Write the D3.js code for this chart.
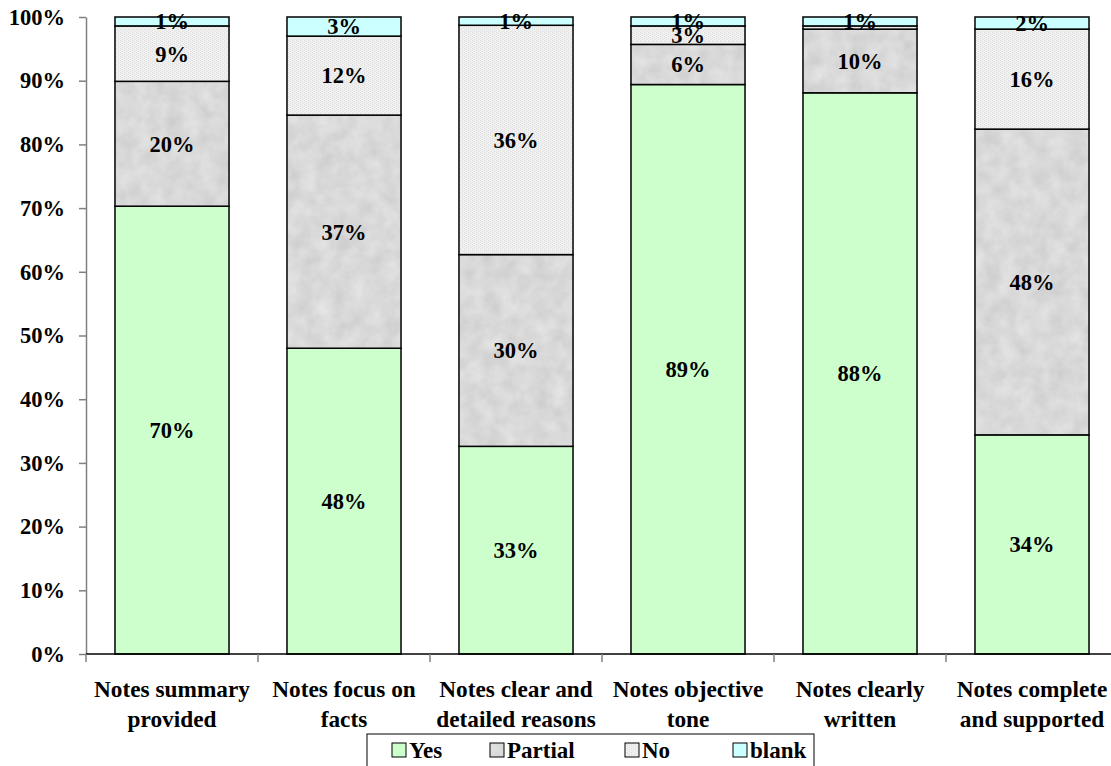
<!DOCTYPE html>
<html>
<head>
<meta charset="utf-8">
<script src="https://cdn.jsdelivr.net/npm/d3@7"></script>
<style>
  html, body { margin: 0; padding: 0; background: #fff; }
  svg { display: block; font-family: "Liberation Serif", "Times New Roman", serif; font-weight: bold; }
</style>
</head>
<body>
<svg id="chart" width="1111" height="766"></svg>
<script>
// Category labels, one array of lines per bar
const categories = [
  "Notes summary provided",
  "Notes focus on facts",
  "Notes clear and detailed reasons",
  "Notes objective tone",
  "Notes clearly written",
  "Notes complete and supported"
];
const categoryLines = [
  ["Notes summary", "provided"],
  ["Notes focus on", "facts"],
  ["Notes clear and", "detailed reasons"],
  ["Notes objective", "tone"],
  ["Notes clearly", "written"],
  ["Notes complete", "and supported"]
];

// Share of responses (percent) for each answer
const yesValues     = [70.3, 48.0, 32.6, 89.4, 88.1, 34.4];
const partialValues = [19.6, 36.6, 30.1,  6.3, 10.0, 48.0];
const noValues      = [ 8.7, 12.4, 36.0,  2.9,  0.5, 15.7];
const blankValues   = [ 1.4,  3.0,  1.3,  1.4,  1.4,  1.9];

const seriesNames = ["Yes", "Partial", "No", "blank"];
const yTicks = [0, 0.1, 0.2, 0.3, 0.4, 0.5, 0.6, 0.7, 0.8, 0.9, 1.0];

const rows = categories.map((c, i) => ({
  category: c,
  Yes: yesValues[i] / 100,
  Partial: partialValues[i] / 100,
  No: noValues[i] / 100,
  blank: blankValues[i] / 100
}));

const svg = d3.select("#chart");
const defs = svg.append("defs");

// Soft mottled grey texture for "Partial"
const mottle = defs.append("filter").attr("id", "mottle")
  .attr("x", 0).attr("y", 0).attr("width", 1).attr("height", 1)
  .attr("color-interpolation-filters", "sRGB");
mottle.append("feTurbulence")
  .attr("type", "fractalNoise").attr("baseFrequency", 0.06)
  .attr("numOctaves", 3).attr("seed", 4).attr("result", "n");
mottle.append("feColorMatrix").attr("in", "n").attr("type", "matrix")
  .attr("values", "0.12 0 0 0 0.79  0.12 0 0 0 0.79  0.12 0 0 0 0.79  0 0 0 0 1");
defs.append("pattern").attr("id", "partialFill")
  .attr("patternUnits", "userSpaceOnUse").attr("width", 1111).attr("height", 766)
  .append("rect").attr("width", 1111).attr("height", 766).attr("filter", "url(#mottle)");

// Fine light dither for "No"
const dither = defs.append("pattern").attr("id", "noFill")
  .attr("patternUnits", "userSpaceOnUse").attr("width", 4).attr("height", 4);
dither.append("rect").attr("width", 4).attr("height", 4).attr("fill", "#f2f2f2");
[[0, 0], [2, 1], [0, 2], [2, 3], [1, 1], [3, 3]].forEach(([px, py], i) =>
  dither.append("rect").attr("x", px).attr("y", py).attr("width", 1).attr("height", 1)
    .attr("fill", i < 4 ? "#e0e0e0" : "#e8e8e8"));

const fills = {
  Yes: "#ccffcc",
  Partial: "url(#partialFill)",
  No: "url(#noFill)",
  blank: "#ccffff"
};

const x = d3.scaleBand()
  .domain(categories)
  .range([86, 1118])
  .paddingInner(0.337)
  .paddingOuter(0.1685);

const y = d3.scaleLinear().domain([0, 1]).range([654, 17]);

const stack = d3.stack().keys(seriesNames);
const stacked = stack(rows);

// Bars
const layers = svg.append("g").selectAll("g")
  .data(stacked).join("g")
  .attr("fill", d => fills[d.key]);

layers.selectAll("rect")
  .data(d => d.map(p => ({ p, key: d.key })))
  .join("rect")
  .attr("x", d => x(d.p.data.category))
  .attr("y", d => y(d.p[1]))
  .attr("width", x.bandwidth())
  .attr("height", d => y(d.p[0]) - y(d.p[1]))
  .attr("stroke", "#000")
  .attr("stroke-width", 1.5);

// Value labels
const pct = d3.format(".0%");
const labelData = stacked.flatMap(layer =>
  layer.map(p => ({ key: layer.key, p, v: p[1] - p[0] })))
  .filter(d => d.v >= 0.01);

svg.append("g").selectAll("text")
  .data(labelData).join("text")
  .attr("x", d => x(d.p.data.category) + x.bandwidth() / 2)
  .attr("y", d => (y(d.p[0]) + y(d.p[1])) / 2)
  .attr("dy", "0.35em")
  .attr("text-anchor", "middle")
  .attr("font-size", 22.5)
  .attr("fill", "#000")
  .text(d => pct(d.v));

// Y axis
const yAxis = d3.axisLeft(y)
  .tickValues(yTicks)
  .tickFormat(d3.format(".0%"))
  .tickSize(7)
  .tickSizeOuter(0)
  .tickPadding(14);

const gy = svg.append("g").attr("transform", "translate(86,0)").call(yAxis);
gy.select(".domain").attr("stroke", "#808080").attr("stroke-width", 1.5);
gy.selectAll(".tick line").attr("stroke", "#808080").attr("stroke-width", 1.5);
gy.selectAll(".tick text")
  .attr("font-size", 22.5)
  .attr("font-family", "Liberation Serif, Times New Roman, serif")
  .attr("font-weight", "bold")
  .attr("fill", "#000");

// X axis baseline and category dividers
const x0 = x.range()[0];
const boundaries = d3.range(categories.length + 1).map(i => x0 + i * x.step());
svg.append("line")
  .attr("x1", x0).attr("x2", x.range()[1])
  .attr("y1", y(0)).attr("y2", y(0))
  .attr("stroke", "#000").attr("stroke-width", 1.5);
svg.append("g").selectAll("line")
  .data(boundaries).join("line")
  .attr("x1", d => d).attr("x2", d => d)
  .attr("y1", y(0)).attr("y2", y(0) + 8)
  .attr("stroke", "#808080").attr("stroke-width", 1.5);

// Category labels
const catText = svg.append("g").selectAll("text")
  .data(categories).join("text")
  .attr("x", d => x(d) + x.bandwidth() / 2)
  .attr("y", 697)
  .attr("text-anchor", "middle")
  .attr("font-size", 23.3)
  .attr("fill", "#000");
catText.selectAll("tspan")
  .data((d, i) => categoryLines[i])
  .join("tspan")
  .attr("x", function () { return this.parentNode.getAttribute("x"); })
  .attr("dy", (d, i) => i === 0 ? 0 : 30)
  .text(d => d);

// Legend
const legend = svg.append("g");
legend.append("rect")
  .attr("x", 367).attr("y", 734).attr("width", 447).attr("height", 40)
  .attr("fill", "#fff").attr("stroke", "#000").attr("stroke-width", 1);

const legendX = [392, 490, 625, 733];
const items = legend.selectAll("g.item")
  .data(seriesNames).join("g")
  .attr("class", "item")
  .attr("transform", (d, i) => `translate(${legendX[i]},743)`);
items.append("rect")
  .attr("width", 14).attr("height", 14)
  .attr("fill", d => fills[d])
  .attr("stroke", "#000").attr("stroke-width", 1);
items.append("text")
  .attr("x", 17).attr("y", 15)
  .attr("font-size", 23)
  .attr("fill", "#000")
  .text(d => d);
</script>
</body>
</html>
